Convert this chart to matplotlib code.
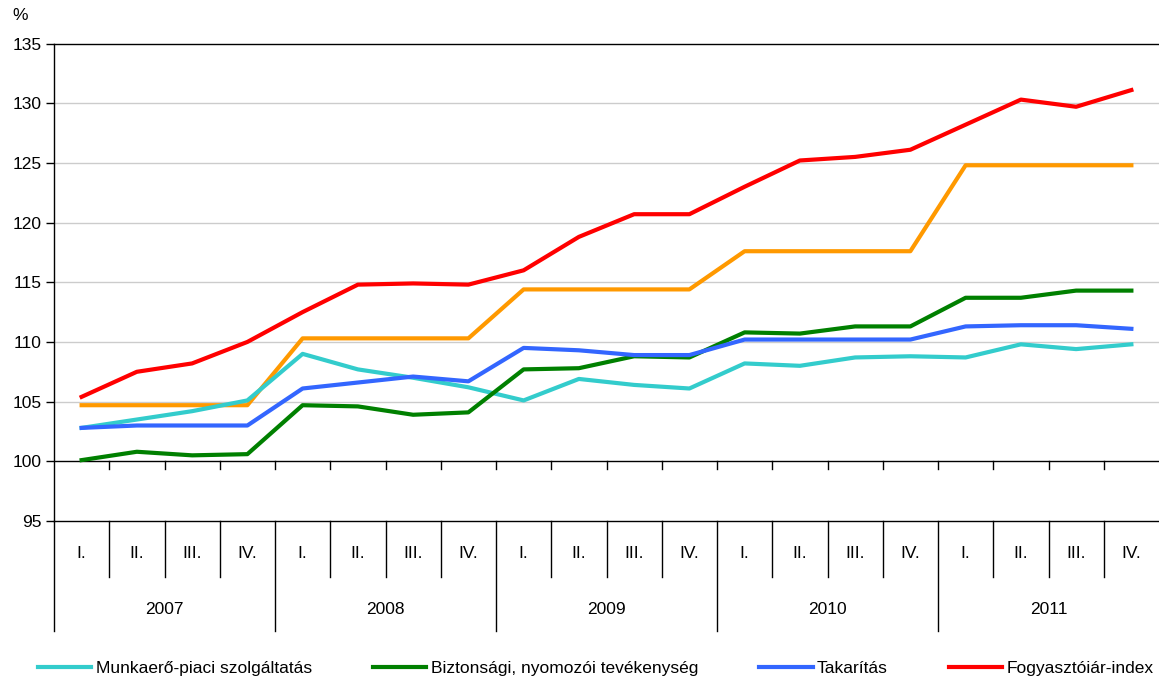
import matplotlib
matplotlib.use("Agg")
import matplotlib.pyplot as plt
import matplotlib.transforms as mtransforms

plt.rcParams['font.family'] = ['Liberation Sans', 'DejaVu Sans']

years = ["2007", "2008", "2009", "2010", "2011"]
quarters = ["I.", "II.", "III.", "IV."]

munkaero = [102.8, 103.5, 104.2, 105.1, 109.0, 107.7, 107.0, 106.2, 105.1, 106.9,
            106.4, 106.1, 108.2, 108.0, 108.7, 108.8, 108.7, 109.8, 109.4, 109.8]
biztonsagi = [100.1, 100.8, 100.5, 100.6, 104.7, 104.6, 103.9, 104.1, 107.7, 107.8,
              108.8, 108.7, 110.8, 110.7, 111.3, 111.3, 113.7, 113.7, 114.3, 114.3]
takaritas = [102.8, 103.0, 103.0, 103.0, 106.1, 106.6, 107.1, 106.7, 109.5, 109.3,
             108.9, 108.9, 110.2, 110.2, 110.2, 110.2, 111.3, 111.4, 111.4, 111.1]
fogyasztoi = [105.4, 107.5, 108.2, 110.0, 112.5, 114.8, 114.9, 114.8, 116.0, 118.8,
              120.7, 120.7, 123.0, 125.2, 125.5, 126.1, 128.2, 130.3, 129.7, 131.1]
narancs = [104.7, 104.7, 104.7, 104.7, 110.3, 110.3, 110.3, 110.3, 114.4, 114.4,
           114.4, 114.4, 117.6, 117.6, 117.6, 117.6, 124.8, 124.8, 124.8, 124.8]

labels = ["Munkaerő-piaci szolgáltatás", "Biztonsági, nyomozói tevékenység",
          "Takarítás", "Fogyasztóiár-index"]
colors = ["#33CCCC", "#008000", "#3366FF", "#FF0000"]
orange = "#FF9900"

W, H = 1159, 683
fig = plt.figure(figsize=(W / 100, H / 100), dpi=100)
left, right, top, bottom = 54, 1159, 43.5, 521
ax = fig.add_axes([left / W, 1 - bottom / H, (right - left) / W, (bottom - top) / H])

n = len(munkaero)
x = list(range(n))
ax.set_xlim(-0.5, n - 0.5)
ax.set_ylim(95, 135)

lw = 3.0
ax.plot(x, narancs, color=orange, lw=lw, zorder=3)
series = [munkaero, biztonsagi, takaritas, fogyasztoi]
handles = []
for s, c, lab in zip(series, colors, labels):
    h, = ax.plot(x, s, color=c, lw=lw, label=lab, zorder=4)
    handles.append(h)

# grid
for v in range(105, 135, 5):
    ax.axhline(v, color="#CCCCCC", lw=1.0, zorder=1)
ax.axhline(100, color="black", lw=1.0, zorder=2)
ax.axhline(95, color="black", lw=1.0, zorder=2, clip_on=False)

ax.spines['right'].set_visible(False)
ax.spines['bottom'].set_visible(False)
ax.spines['top'].set_linewidth(1.0)
ax.spines['left'].set_linewidth(1.0)
ax.spines['left'].set_bounds(95, 135)

ax.set_yticks(range(95, 140, 5))
ax.tick_params(axis='y', length=6, width=1, labelsize=12.5, pad=3)
ax.set_xticks([])

trans = mtransforms.blended_transform_factory(ax.transData, ax.transAxes)
axh = bottom - top
q_bot = -(577 - bottom) / axh
y_bot = -(631 - bottom) / axh
q_lab = -(554 - bottom) / axh
y_lab = -(609 - bottom) / axh

# left spine extension
ax.plot([-0.5, -0.5], [0, y_bot], transform=trans, color="black", lw=1.0, clip_on=False)
for k in range(1, n):
    xb = k - 0.5
    if k % 4 == 0:
        ax.plot([xb, xb], [0, y_bot], transform=trans, color="black", lw=1.0, clip_on=False)
    else:
        ax.plot([xb, xb], [0, q_bot], transform=trans, color="black", lw=1.0, clip_on=False)
    ax.plot([xb, xb], [100, 99.35], color="black", lw=1.0, clip_on=False, zorder=2)

for i in range(n):
    ax.text(i, q_lab, quarters[i % 4], transform=trans, ha='center', va='center', fontsize=12.5)
for j, yr in enumerate(years):
    ax.text(j * 4 + 1.5, y_lab, yr, transform=trans, ha='center', va='center', fontsize=12.5)

fig.text(12 / W, 1 - 16 / H, "%", ha='left', va='center', fontsize=12.5)

fig.legend(handles=handles, labels=labels, loc='center', bbox_to_anchor=(0.514, 1 - 668 / H),
           ncol=4, frameon=False, fontsize=12.5, handlelength=3.1, handletextpad=0.25,
           columnspacing=3.5, borderpad=0.1, borderaxespad=0)

fig.savefig("out.png", dpi=100)
